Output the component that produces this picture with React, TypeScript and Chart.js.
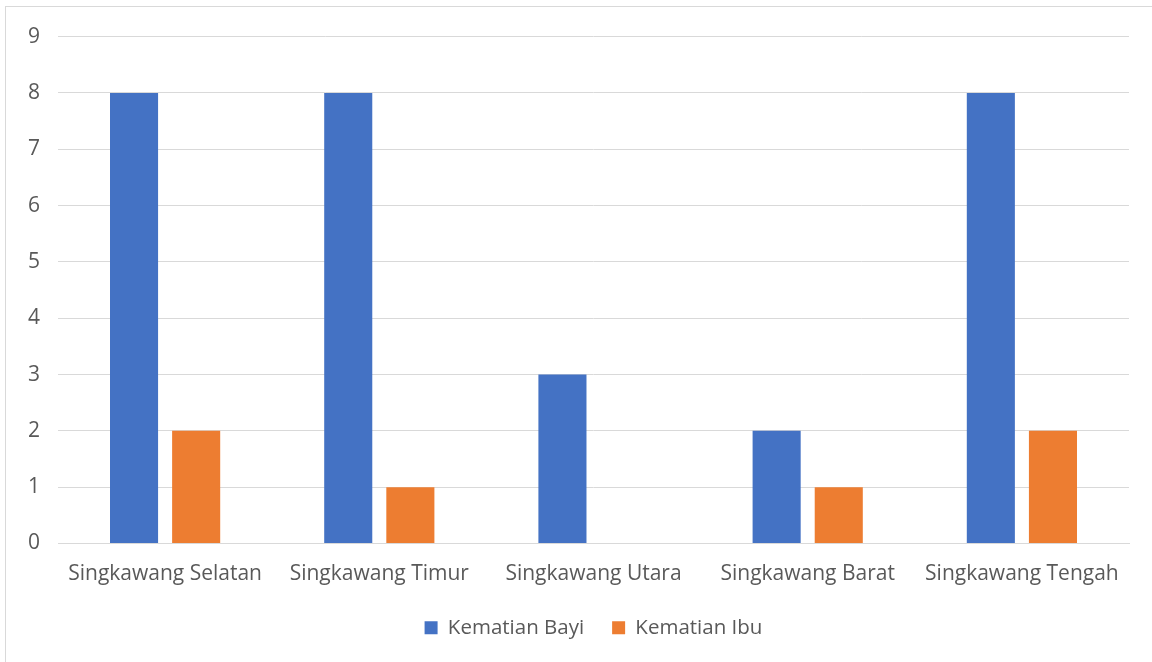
import React, { useEffect, useRef } from "react";
import { Chart, registerables } from "chart.js";

Chart.register(...registerables);

const categories = [
  "Singkawang Selatan",
  "Singkawang Timur",
  "Singkawang Utara",
  "Singkawang Barat",
  "Singkawang Tengah",
];
const kematianBayi = [8, 8, 3, 2, 8];
const kematianIbu = [2, 1, 0, 1, 2];
const seriesNames = ["Kematian Bayi", "Kematian Ibu"];
const yMin = 0;
const yMax = 9;
const yStep = 1;

const FONT = "'Open Sans', 'Liberation Sans', sans-serif";
const TEXT = "#595959";
const GRID = "#d9d9d9";

export default function App() {
  const ref = useRef<HTMLCanvasElement | null>(null);

  useEffect(() => {
    document.body.style.margin = "0";
    const canvas = ref.current;
    if (!canvas) return;
    const chart = new Chart(canvas, {
      type: "bar",
      data: {
        labels: categories,
        datasets: [
          {
            label: seriesNames[0],
            data: kematianBayi,
            backgroundColor: "#4472c4",
            borderWidth: 0,
            categoryPercentage: 0.58,
            barPercentage: 0.774,
          },
          {
            label: seriesNames[1],
            data: kematianIbu,
            backgroundColor: "#ed7d31",
            borderWidth: 0,
            categoryPercentage: 0.58,
            barPercentage: 0.774,
          },
        ],
      },
      options: {
        animation: false,
        responsive: false,
        maintainAspectRatio: false,
        layout: { padding: { left: 0, right: 23, top: 26, bottom: 14 } },
        plugins: {
          tooltip: { enabled: false },
          legend: {
            position: "bottom",
            fullSize: false,
            labels: {
              color: TEXT,
              font: { family: FONT, size: 20.5 },
              boxWidth: 13,
              boxHeight: 13,
              padding: 28,
            },
          },
        },
        scales: {
          x: {
            grid: { display: false, drawTicks: false },
            border: { color: GRID, width: 1 },
            ticks: {
              color: TEXT,
              font: { family: FONT, size: 21 },
              padding: 18,
              maxRotation: 0,
              autoSkip: false,
            },
            afterFit: (s: any) => {
              s.height = 46;
            },
          },
          y: {
            min: yMin,
            max: yMax,
            grid: { color: GRID, drawTicks: false },
            border: { display: false },
            ticks: {
              stepSize: yStep,
              color: TEXT,
              font: { family: FONT, size: 21 },
              padding: 18,
            },
            afterFit: (s: any) => {
              s.width = 53;
            },
          },
        },
      },
    });
    return () => chart.destroy();
  }, []);

  return (
    <div
      style={{
        position: "relative",
        width: 1152,
        height: 662,
        background: "#fff",
        overflow: "hidden",
      }}
    >
      <div
        style={{
          position: "absolute",
          left: 5,
          top: 6,
          width: 1200,
          height: 700,
          borderLeft: "1px solid #d9d9d9",
          borderTop: "1px solid #d9d9d9",
        }}
      />
      <canvas
        ref={ref}
        width={1147}
        height={656}
        style={{ position: "absolute", left: 5, top: 6 }}
      />
    </div>
  );
}
